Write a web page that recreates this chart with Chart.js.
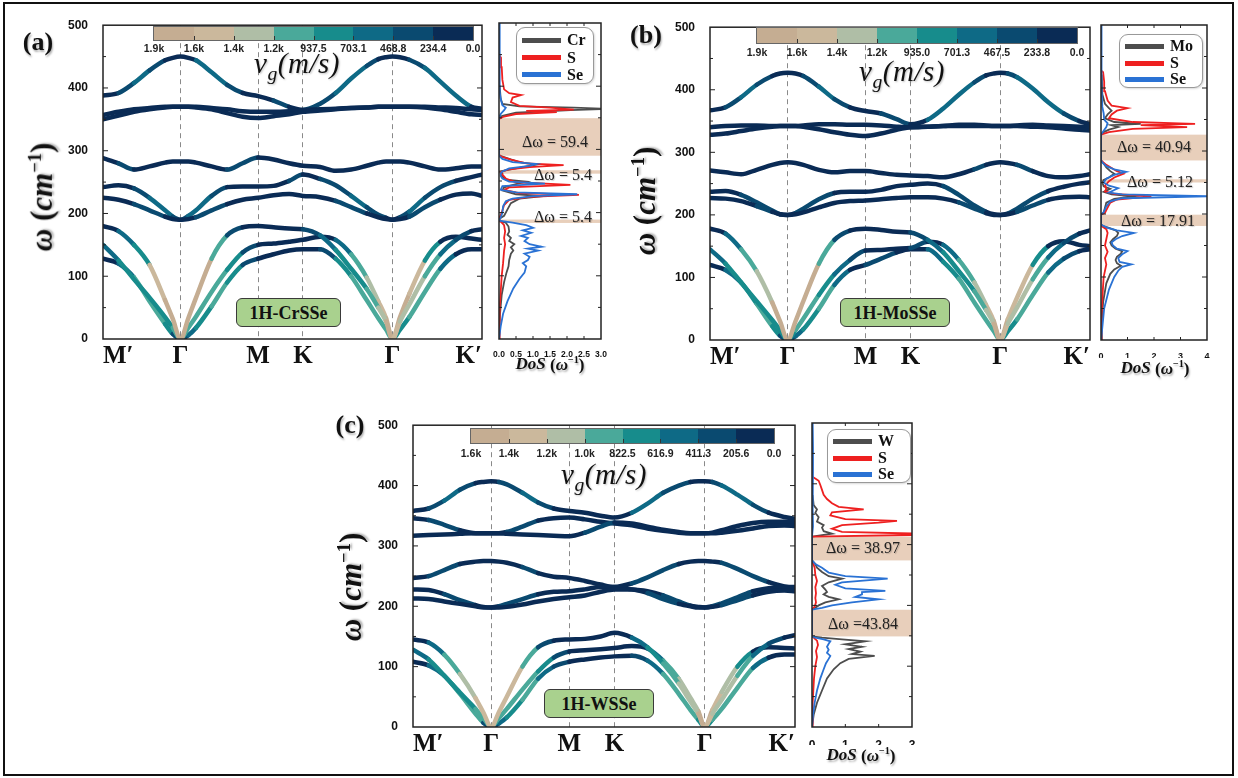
<!DOCTYPE html>
<html>
<head>
<meta charset="utf-8">
<title>Phonon dispersion and DoS of 1H-CrSSe, 1H-MoSSe, 1H-WSSe</title>
<script src="https://cdn.jsdelivr.net/npm/chart.js@4.4.1/dist/chart.umd.min.js"></script>
<style>
  html, body { margin: 0; padding: 0; background: #fff; }
  #fig { position: relative; width: 1238px; height: 778px; overflow: hidden; background: #fff; }
  #fig canvas { position: absolute; }
  .t { position: absolute; white-space: nowrap; color: #111; font-family: 'Liberation Serif', 'Times New Roman', serif; }
  .frame { position: absolute; left: 3px; top: 2px; width: 1227px; height: 770px; border: 2px solid #111; }
</style>
</head>
<body>
<div id="fig"><div class="frame"></div></div>
<script>
// k-path M'-G-M-K-G-K' (units of |GM|)
const kTicks  = [0, 1, 2, 2.577, 3.732, 4.887];
const kLabels = ['M\u2032', '\u0393', 'M', 'K', '\u0393', 'K\u2032'];
const kGrid = [0, 0.2, 0.4, 0.6, 0.8, 0.9, 1.0,
               1.1, 1.2, 1.4, 1.6, 1.8, 2.0,
               2.2, 2.4, 2.577,
               2.8, 3.0, 3.2, 3.4, 3.55, 3.65, 3.732,
               3.83, 3.95, 4.15, 4.35, 4.55, 4.75, 4.887];

// phonon branches, omega (cm^-1) at each kGrid point
const bandsCrSSe = [
  [180,172,150,118,62,32,0, 33,66,128,165,178,180, 178,176,175, 165,142,112,80,50,28,0, 28,55,100,135,158,172,175],
  [150,125,95,66,35,18,0, 18,36,75,110,138,150, 152,155,158, 163,158,135,98,60,33,0, 35,72,125,155,163,160,158],
  [128,120,98,60,24,8,0, 6,18,52,90,118,128, 135,141,143, 143,128,100,62,33,15,0, 15,35,75,112,135,143,143],
  [225,222,215,205,195,191,190, 191,194,205,215,222,225, 229,231,228, 226,220,210,200,194,191,190, 191,195,210,222,230,232,228],
  [242,245,240,225,205,195,190, 196,205,228,242,243,243, 244,252,262, 255,245,228,210,198,193,190, 194,203,225,242,252,258,262],
  [288,280,270,275,281,283,283, 283,281,275,270,280,289, 286,280,276, 274,268,270,276,281,283,283, 283,281,275,270,272,275,275],
  [350,356,362,366,369,370,370, 370,369,366,360,354,352, 355,358,362, 364,366,368,369,370,370,370, 370,370,369,366,362,358,357],
  [357,362,366,368,370,370,370, 370,370,368,366,363,362, 362,363,365, 366,367,368,369,370,370,370, 370,370,370,369,368,366,365],
  [388,392,408,428,444,448,450, 448,444,425,405,392,387, 380,370,365, 375,392,415,435,446,449,450, 449,445,432,410,388,370,367]
];
const bandsMoSSe = [
  [178,170,145,110,60,30,0, 30,62,122,160,175,178, 176,173,172, 160,140,110,78,48,26,0, 26,52,97,132,155,170,175],
  [145,122,92,62,32,16,0, 16,34,72,105,128,143, 144,146,147, 157,152,128,92,56,30,0, 33,68,120,150,158,152,150],
  [120,112,92,58,22,7,0, 6,17,50,88,112,120, 130,140,145, 145,125,98,60,32,14,0, 14,33,72,108,130,142,145],
  [227,226,222,214,205,201,200, 201,204,212,219,222,223, 225,227,228, 228,226,220,210,203,200,200, 201,205,215,224,228,229,228],
  [237,238,232,220,207,201,200, 203,210,225,235,237,237, 240,246,248, 250,246,232,215,205,201,200, 202,210,226,238,245,250,252],
  [271,268,265,272,280,283,284, 283,280,272,268,270,270, 267,264,263, 262,260,265,273,280,283,284, 283,280,270,262,260,262,265],
  [328,330,334,338,341,342,342, 342,341,337,332,328,326, 330,336,340, 341,342,342,342,342,342,342, 342,342,341,340,338,336,335],
  [340,342,343,343,342,342,342, 342,343,345,345,344,344, 343,341,340, 341,342,344,344,343,342,342, 342,343,344,343,342,341,340],
  [367,372,388,408,422,426,427, 426,422,405,385,372,366, 362,353,345, 352,370,392,412,423,426,427, 426,420,402,380,362,350,345]
];
const bandsWSSe = [
  [145,140,120,88,48,24,0, 25,50,100,132,143,145, 146,150,156, 148,132,105,72,42,22,0, 22,45,85,118,138,148,152],
  [128,112,85,57,30,15,0, 15,30,62,92,115,125, 127,129,131, 134,130,110,80,48,26,0, 28,58,100,125,132,131,130],
  [108,102,85,55,22,7,0, 6,16,45,80,100,108, 112,115,117, 118,110,88,55,28,12,0, 12,30,65,98,115,120,120],
  [213,212,208,204,200,198,198, 198,199,203,208,212,215, 218,224,228, 228,222,212,204,200,198,198, 199,202,210,218,224,226,225],
  [228,227,220,210,202,199,198, 200,204,212,220,224,225, 228,232,232, 228,225,218,208,201,199,198, 200,205,215,225,230,232,232],
  [247,250,260,270,274,275,275, 274,272,265,255,249,247, 242,236,232, 238,248,260,270,274,275,275, 274,272,262,250,240,233,230],
  [317,318,319,320,321,321,321, 321,320,319,318,317,316, 322,332,339, 337,332,327,323,321,321,321, 321,322,325,329,333,334,333],
  [346,343,335,326,321,321,321, 321,323,332,342,346,347, 344,340,337, 334,329,325,322,321,321,321, 322,326,333,338,340,340,340],
  [358,362,375,393,404,406,407, 406,402,388,372,362,358, 355,350,347, 355,370,388,400,406,407,407, 406,400,385,368,355,348,345]
];

// group-velocity colour bar tick labels (m/s)
const vgTicksCrSSe = ['1.9k','1.6k','1.4k','1.2k','937.5','703.1','468.8','234.4','0.0'];
const vgTicksMoSSe = ['1.9k','1.6k','1.4k','1.2k','935.0','701.3','467.5','233.8','0.0'];
const vgTicksWSSe  = ['1.6k','1.4k','1.2k','1.0k','822.5','616.9','411.3','205.6','0.0'];

// projected phonon DoS, [omega, DoS]
const dosCr = [[0,0],[40,0.03],[70,0.08],[90,0.15],[105,0.22],[115,0.28],[125,0.3],[135,0.35],[140,0.42],[145,0.35],[150,0.45],[155,0.3],[160,0.35],[165,0.25],[170,0.3],[178,0.28],[184,0.2],[187,0.02],[190,0],[195,0.15],[205,0.25],[215,0.35],[222,0.6],[226,1.3],[229,0.5],[235,0.1],[240,0.15],[245,0.5],[249,0.8],[252,0.2],[258,0.08],[262,0.1],[265,0.02],[268,0.3],[272,0.7],[276,1.1],[280,0.6],[285,0.3],[290,0.02],[295,0],[350,0],[353,0.1],[358,0.5],[362,2.1],[364,3.2],[366,2.2],[368,0.6],[372,0.1],[380,0.05],[400,0.02],[450,0],[500,0]];
const dosS_Cr = [[0,0],[50,0.02],[100,0.08],[120,0.12],[140,0.15],[150,0.18],[160,0.15],[170,0.18],[180,0.15],[186,0.05],[190,0],[200,0.08],[212,0.15],[220,0.3],[225,0.9],[228,2.35],[231,0.6],[236,0.15],[240,0.3],[244,2.1],[248,0.5],[254,0.2],[260,0.1],[264,0.05],[268,0.25],[272,0.9],[275,1.9],[278,0.8],[284,0.35],[289,0.05],[292,0],[348,0],[352,0.15],[356,0.5],[359,1.7],[361,0.8],[363,2.2],[366,1.5],[369,0.6],[375,0.35],[382,0.4],[386,0.65],[389,0.3],[395,0.15],[410,0.1],[430,0.08],[445,0.06],[450,0],[500,0]];
const dosSe_Cr = [[0,0],[20,0.05],[40,0.12],[60,0.25],[80,0.42],[95,0.6],[105,0.75],[115,0.8],[120,0.7],[125,0.85],[130,0.9],[135,0.75],[140,1.15],[143,0.85],[146,1.25],[150,0.9],[155,0.75],[160,0.85],[163,0.65],[168,0.95],[172,0.7],[176,1.0],[180,0.8],[184,0.4],[187,0.05],[189,0],[192,0.05],[200,0.1],[210,0.12],[218,0.2],[222,0.4],[226,1.0],[229,2.3],[232,0.5],[236,0.05],[242,0.1],[246,1.35],[249,0.3],[254,0.1],[258,0.05],[262,0.05],[265,0.1],[270,0.3],[274,0.9],[277,1.1],[280,0.4],[285,0.1],[290,0],[350,0],[356,0.05],[362,0.15],[366,0.2],[370,0.1],[380,0.05],[390,0.02],[450,0.02],[500,0.02]];

const dosMo = [[0,0],[30,0.03],[60,0.08],[90,0.2],[105,0.35],[112,0.5],[118,0.75],[122,0.6],[127,0.55],[132,0.6],[137,0.75],[141,0.8],[145,0.55],[150,0.4],[155,0.35],[160,0.45],[165,0.6],[170,0.65],[174,0.55],[178,0.3],[181,0.05],[184,0],[199,0],[202,0.1],[210,0.15],[218,0.2],[224,0.5],[228,1.2],[231,0.4],[235,0.1],[240,0.35],[244,0.1],[250,0.05],[254,0.1],[258,0.3],[264,0.5],[268,0.35],[274,0.2],[280,0.1],[285,0],[326,0],[330,0.1],[334,0.3],[338,0.65],[341,0.4],[343,1.5],[346,0.5],[352,0.15],[358,0.25],[364,0.4],[368,0.3],[375,0.15],[390,0.05],[420,0.03],[430,0],[500,0]];
const dosS_Mo = [[0,0],[40,0.02],[80,0.07],[100,0.1],[120,0.2],[130,0.15],[140,0.25],[150,0.15],[160,0.2],[170,0.25],[176,0.2],[180,0.05],[184,0],[199,0],[202,0.15],[210,0.25],[218,0.35],[223,0.6],[228,1.9],[232,0.5],[236,0.15],[240,0.2],[245,0.15],[252,0.3],[258,0.5],[264,0.85],[268,0.6],[273,0.4],[278,0.2],[285,0],[326,0],[330,0.3],[335,1.2],[338,3.25],[341,1.5],[343,3.55],[346,1.2],[352,0.3],[358,0.4],[364,0.6],[368,1.0],[372,0.4],[380,0.25],[395,0.15],[410,0.12],[425,0.08],[428,0],[500,0]];
const dosSe_Mo = [[0,0],[20,0.05],[50,0.12],[80,0.3],[100,0.5],[110,0.65],[116,0.8],[120,1.15],[124,0.7],[130,0.65],[136,0.8],[141,1.0],[145,0.6],[150,0.45],[155,0.4],[160,0.55],[165,0.8],[170,1.24],[174,0.6],[178,0.25],[182,0.05],[184,0],[199,0],[203,0.1],[212,0.2],[220,0.35],[225,0.8],[228,4.2],[231,0.8],[234,0.3],[238,0.5],[241,0.65],[245,0.3],[250,0.1],[256,0.2],[262,0.5],[267,0.95],[271,0.5],[276,0.2],[282,0.05],[285,0],[326,0],[332,0.1],[338,0.2],[344,0.25],[350,0.12],[360,0.1],[370,0.05],[400,0.02],[470,0.02],[500,0.02]];

const dosW = [[0,0],[20,0.05],[40,0.15],[60,0.3],[80,0.45],[95,0.65],[105,0.85],[112,1.1],[117,1.88],[120,1.2],[124,1.45],[128,1.1],[132,1.5],[136,1.0],[141,1.6],[144,0.9],[147,0.3],[149,0],[193,0],[196,0.1],[200,0.2],[205,0.4],[210,0.8],[214,0.5],[218,0.35],[222,0.45],[226,0.4],[232,0.3],[238,0.5],[244,0.9],[248,0.5],[255,0.3],[262,0.15],[268,0.1],[274,0],[313,0],[318,0.6],[322,0.35],[328,0.3],[332,0.35],[338,0.15],[345,0.2],[352,0.1],[358,0.15],[365,0.05],[380,0.02],[400,0],[500,0]];
const dosS_W = [[0,0],[40,0.02],[80,0.06],[100,0.1],[115,0.15],[125,0.12],[135,0.18],[142,0.15],[147,0.05],[149,0],[193,0],[198,0.08],[205,0.12],[212,0.1],[220,0.12],[230,0.1],[240,0.15],[250,0.1],[262,0.08],[274,0],[313,0],[316,3.2],[318,3.2],[321,0.9],[326,0.6],[332,0.9],[336,2.0],[339,2.55],[342,1.0],[348,0.55],[353,0.6],[358,1.55],[362,0.8],[368,0.6],[375,0.45],[382,0.35],[390,0.3],[398,0.25],[405,0.2],[408,0.12],[412,0],[500,0]];
const dosSe_W = [[0,0],[20,0.03],[40,0.08],[60,0.15],[80,0.25],[95,0.35],[105,0.42],[112,0.5],[117,0.55],[122,0.45],[127,0.5],[132,0.45],[137,0.5],[141,0.55],[144,0.35],[147,0.1],[149,0],[193,0],[196,0.3],[200,0.6],[205,1.2],[210,2.0],[214,1.3],[218,1.5],[222,1.5],[224,2.2],[228,1.0],[234,0.7],[238,0.9],[244,2.27],[248,1.0],[254,0.5],[262,0.3],[268,0.1],[274,0],[313,0],[330,0.03],[360,0.02],[420,0.03],[460,0.03],[500,0.02]];

// phonon gaps [omega_low, omega_high] and their labels
const gapsCrSSe = [[290, 349.4], [261.6, 267], [183.6, 189]];
const gapsMoSSe = [[285, 325.94], [250, 255.12], [181, 198.91]];
const gapsWSSe  = [[274, 312.97], [149, 192.84]];
const gapTextCrSSe = ['\u0394\u03c9 = 59.4', '\u0394\u03c9 = 5.4', '\u0394\u03c9 = 5.4'];
const gapTextMoSSe = ['\u0394\u03c9 = 40.94', '\u0394\u03c9 = 5.12', '\u0394\u03c9 = 17.91'];
const gapTextWSSe  = ['\u0394\u03c9 = 38.97', '\u0394\u03c9 =43.84'];

// colours, low -> high group velocity
const vgColors = ['#0a2b55', '#0a4a70', '#0e6a86', '#178c8c', '#4aa99a', '#afbea6', '#cbb89c', '#c5ad92'];
const VG_PER_SLOPE = 5.5;
const dosColors = ['#4d4d4d', '#ee2020', '#2a72d4'];

const panels = [
  { tag: '(a)', name: '1H-CrSSe', bands: bandsCrSSe, vgTicks: vgTicksCrSSe, vgBin: 234.4,
    dos: [dosCr, dosS_Cr, dosSe_Cr], els: ['Cr', 'S', 'Se'], dosMax: 3, dosStep: 0.5, dosDec: 1, dosFont: 8.5,
    gaps: gapsCrSSe, gapText: gapTextCrSSe, gapPos: [[555, 142], [563, 175], [563, 217]],
    plot: [103, 23, 482, 339], dosX: [499, 601], cbar: [154, 27, 473, 40], cbLabelY: 47.5,
    vgPos: [297, 66], tagPos: [38, 42], yTitlePos: [42, 197], sample: [236, 298, 341, 327],
    dosTitlePos: [550, 364], legend: [516, 27, 76, 55] },
  { tag: '(b)', name: '1H-MoSSe', bands: bandsMoSSe, vgTicks: vgTicksMoSSe, vgBin: 233.8,
    dos: [dosMo, dosS_Mo, dosSe_Mo], els: ['Mo', 'S', 'Se'], dosMax: 4, dosStep: 1, dosDec: 0, dosFont: 9,
    gaps: gapsMoSSe, gapText: gapTextMoSSe, gapPos: [[1154, 147], [1160, 182], [1158, 221]],
    plot: [710, 25, 1090, 340], dosX: [1101, 1207], cbar: [757, 28, 1077, 43], cbLabelY: 52,
    vgPos: [902, 74], tagPos: [646, 35], yTitlePos: [645, 201], sample: [840, 298, 950, 327],
    dosTitlePos: [1155, 368], legend: [1119, 34, 82, 52] },
  { tag: '(c)', name: '1H-WSSe', bands: bandsWSSe, vgTicks: vgTicksWSSe, vgBin: 205.6,
    dos: [dosW, dosS_W, dosSe_W], els: ['W', 'S', 'Se'], dosMax: 3, dosStep: 1, dosDec: 0, dosFont: 12,
    gaps: gapsWSSe, gapText: gapTextWSSe, gapPos: [[863, 548], [863, 624]],
    plot: [413, 423, 795, 727], dosX: [812, 912], cbar: [471, 429, 774, 443], cbLabelY: 452.5,
    vgPos: [604, 477], tagPos: [350, 425], yTitlePos: [351, 587], sample: [544, 689, 654, 718],
    dosTitlePos: [861, 755], legend: [827, 429, 82, 52] }
];

const fig = document.getElementById('fig');

// frame + inward ticks
const boxPlugin = {
  id: 'box',
  afterDatasetsDraw(chart, args, opts) {
    const { ctx, chartArea: a, scales } = chart;
    ctx.save();
    ctx.strokeStyle = '#222';
    ctx.lineWidth = 1.5;
    ctx.strokeRect(a.left, a.top, a.right - a.left, a.bottom - a.top);
    ctx.lineWidth = 1;
    ctx.beginPath();
    for (let v = 50; v < 500; v += 50) {
      const py = scales.y.getPixelForValue(v);
      const L = v % 100 ? 3 : 5;
      ctx.moveTo(a.left, py); ctx.lineTo(a.left + L, py);
      ctx.moveTo(a.right, py); ctx.lineTo(a.right - L, py);
    }
    if (opts.xStep) {
      for (let v = opts.xStep; v < scales.x.max; v += opts.xStep) {
        const px = scales.x.getPixelForValue(v);
        ctx.moveTo(px, a.bottom); ctx.lineTo(px, a.bottom - 3);
        ctx.moveTo(px, a.top); ctx.lineTo(px, a.top + 3);
      }
    }
    ctx.stroke();
    ctx.restore();
  }
};

// shaded phonon gaps in the DoS panels
const gapPlugin = {
  id: 'gaps',
  beforeDatasetsDraw(chart, args, opts) {
    const { ctx, chartArea: a, scales } = chart;
    ctx.save();
    ctx.fillStyle = 'rgba(214,168,132,0.55)';
    (opts.gaps || []).forEach(g => {
      const yTop = scales.y.getPixelForValue(g[1]);
      const yBot = scales.y.getPixelForValue(g[0]);
      ctx.fillRect(a.left, yTop, a.right - a.left, yBot - yTop);
    });
    ctx.restore();
  }
};

function makeCanvas(x, y, w, h) {
  const c = document.createElement('canvas');
  c.width = w; c.height = h;
  c.style.left = x + 'px'; c.style.top = y + 'px';
  c.style.width = w + 'px'; c.style.height = h + 'px';
  fig.appendChild(c);
  return c.getContext('2d');
}

function put(html, x, y, css) {
  const d = document.createElement('div');
  d.className = 't';
  d.innerHTML = html;
  d.style.left = x + 'px';
  d.style.top = y + 'px';
  d.style.transform = 'translate(-50%,-50%)';
  if (css) d.style.cssText += css;
  fig.appendChild(d);
  return d;
}

function bandChart(p) {
  const [x0, y0, x1, y1] = p.plot;
  const padT = 12, axW = 50, axH = 40, padR = 22;
  const ctx = makeCanvas(x0 - axW, y0 - padT, axW + (x1 - x0) + padR, padT + (y1 - y0) + axH);
  const segCol = c => {
    const dx = c.p1.parsed.x - c.p0.parsed.x;
    const dy = c.p1.parsed.y - c.p0.parsed.y;
    const v = Math.abs(dy / dx) * VG_PER_SLOPE;
    return vgColors[Math.min(vgColors.length - 1, Math.floor(v / p.vgBin))];
  };
  const kEnd = kTicks[kTicks.length - 1];
  return new Chart(ctx, {
    type: 'line',
    data: {
      datasets: p.bands.map(b => ({
        data: kGrid.map((k, i) => ({ x: k, y: b[i] })),
        borderWidth: 4.5,
        pointRadius: 0,
        cubicInterpolationMode: 'monotone',
        borderCapStyle: 'round',
        borderJoinStyle: 'round',
        borderColor: vgColors[0],
        segment: { borderColor: segCol }
      }))
    },
    options: {
      responsive: false,
      animation: false,
      devicePixelRatio: 1,
      layout: { padding: { top: padT, right: padR, left: 0, bottom: 0 } },
      plugins: { legend: { display: false }, tooltip: { enabled: false }, box: {} },
      scales: {
        x: {
          type: 'linear', min: 0, max: kEnd,
          afterBuildTicks: s => { s.ticks = kTicks.map(v => ({ value: v })); },
          afterFit: s => { s.height = axH; },
          ticks: {
            autoSkip: false, maxRotation: 0, minRotation: 0, align: 'inner', padding: 3, color: '#111',
            font: { family: 'Liberation Serif', size: 25, weight: 'bold' },
            callback: (v, i) => kLabels[i]
          },
          grid: {
            drawTicks: false, lineWidth: 1,
            color: c => (c.tick && c.tick.value > 0 && c.tick.value < kEnd - 0.01) ? '#8a8a8a' : 'rgba(0,0,0,0)'
          },
          border: { display: false, dash: [5, 4] }
        },
        y: {
          type: 'linear', min: 0, max: 500,
          afterFit: s => { s.width = axW; },
          ticks: { stepSize: 100, padding: 7, color: '#111', font: { family: 'Liberation Sans', size: 12, weight: 'bold' } },
          grid: { display: false },
          border: { display: false }
        }
      }
    },
    plugins: [boxPlugin]
  });
}

function dosChart(p) {
  const [x0, x1] = p.dosX;
  const y0 = p.plot[1], y1 = p.plot[3];
  const padT = 12, padL = 12, padR = 12, axH = 18;
  const ctx = makeCanvas(x0 - padL, y0 - padT, padL + (x1 - x0) + padR, padT + (y1 - y0) + axH);
  // first dataset is drawn on top, so put Se first
  const ds = p.dos.map((d, j) => ({
    data: d.map(q => ({ x: q[1], y: q[0] })),
    borderColor: dosColors[j],
    borderWidth: 1.8,
    pointRadius: 0,
    tension: 0
  })).reverse();
  return new Chart(ctx, {
    type: 'line',
    data: { datasets: ds },
    options: {
      responsive: false,
      animation: false,
      devicePixelRatio: 1,
      layout: { padding: { top: padT, left: padL, right: padR, bottom: 0 } },
      plugins: { legend: { display: false }, tooltip: { enabled: false },
        box: { xStep: p.dosStep }, gaps: { gaps: p.gaps } },
      scales: {
        x: {
          type: 'linear', min: 0, max: p.dosMax,
          afterFit: s => { s.height = axH; },
          ticks: { stepSize: p.dosStep, padding: 3, color: '#111', autoSkip: false, maxRotation: 0, minRotation: 0,
            font: { family: 'Liberation Sans', size: p.dosFont, weight: 'bold' },
            callback: v => Number(v).toFixed(p.dosDec) },
          grid: { display: false },
          border: { display: false }
        },
        y: { type: 'linear', min: 0, max: 500, display: false }
      }
    },
    plugins: [gapPlugin, boxPlugin]
  });
}

function colorbar(p) {
  const [x0, y0, x1, y1] = p.cbar;
  const bar = document.createElement('div');
  bar.style.cssText = `position:absolute;left:${x0}px;top:${y0}px;width:${x1 - x0}px;height:${y1 - y0}px;display:flex;outline:1px solid #666;`;
  for (let i = 0; i < 8; i++) {
    const b = document.createElement('div');
    b.style.cssText = `flex:1;height:100%;background:${vgColors[7 - i]};position:relative;`;
    if (i > 0) {
      const tk = document.createElement('div');
      tk.style.cssText = 'position:absolute;left:0;bottom:0;width:1px;height:4px;background:#333;';
      b.appendChild(tk);
    }
    bar.appendChild(b);
  }
  fig.appendChild(bar);
  p.vgTicks.forEach((lab, i) => {
    put(lab, x0 + i * (x1 - x0) / 8, p.cbLabelY,
      "font-family:'Liberation Sans',Arial,sans-serif;font-weight:bold;font-size:10.5px;color:#222;");
  });
  put('<i>v</i><sub style="font-size:0.68em"><i>g</i></sub><i>(m/s)</i>', p.vgPos[0], p.vgPos[1],
    'font-size:29px;letter-spacing:0.5px;text-shadow:1px 1px 2px rgba(0,0,0,0.25);');
}

function legend(p) {
  const [x, y, w, h] = p.legend;
  const box = document.createElement('div');
  box.style.cssText = `position:absolute;left:${x}px;top:${y}px;width:${w}px;height:${h}px;border:1px solid #999;border-radius:9px;background:#fff;box-shadow:1px 1px 2px rgba(0,0,0,0.15);`;
  fig.appendChild(box);
  const fr = [0.24, 0.56, 0.87];
  p.els.forEach((el, j) => {
    const cy = y + h * fr[j];
    const ln = document.createElement('div');
    ln.style.cssText = `position:absolute;left:${x + 6}px;top:${cy - 2.5}px;width:39px;height:5px;background:${dosColors[j]};`;
    fig.appendChild(ln);
    const t = put(el, x + 51, cy, 'font-weight:bold;font-size:16px;');
    t.style.transform = 'translate(0,-50%)';
  });
}

panels.forEach(p => {
  bandChart(p);
  dosChart(p);
  colorbar(p);
  legend(p);
  const shadow = 'text-shadow:1px 2px 2px rgba(0,0,0,0.3);';
  put(p.tag, p.tagPos[0], p.tagPos[1], 'font-weight:bold;font-size:26px;' + shadow);
  const yt = put('<i>\u03c9</i> (<i>cm</i><sup style="font-size:0.6em">\u22121</sup>)', p.yTitlePos[0], p.yTitlePos[1],
    'font-weight:bold;font-size:31px;' + shadow);
  yt.style.transform = 'translate(-50%,-50%) rotate(-90deg)';
  const [sx0, sy0, sx1, sy1] = p.sample;
  const s = document.createElement('div');
  s.className = 't';
  s.textContent = p.name;
  s.style.cssText += `left:${sx0}px;top:${sy0}px;width:${sx1 - sx0}px;height:${sy1 - sy0}px;line-height:${sy1 - sy0}px;text-align:center;background:#a9d18e;border:1.5px solid #3a3a3a;border-radius:6px;box-sizing:border-box;font-weight:bold;font-size:18px;`;
  fig.appendChild(s);
  put('<b><i>DoS</i></b> <b>(<i>\u03c9</i><sup style="font-size:0.6em">\u22121</sup>)</b>', p.dosTitlePos[0], p.dosTitlePos[1],
    'font-size:17px;' + shadow);
  p.gapText.forEach((g, j) => {
    put(g, p.gapPos[j][0], p.gapPos[j][1], 'font-size:16px;color:#222;text-shadow:1px 1px 1px rgba(0,0,0,0.2);');
  });
});
</script>
</body>
</html>
